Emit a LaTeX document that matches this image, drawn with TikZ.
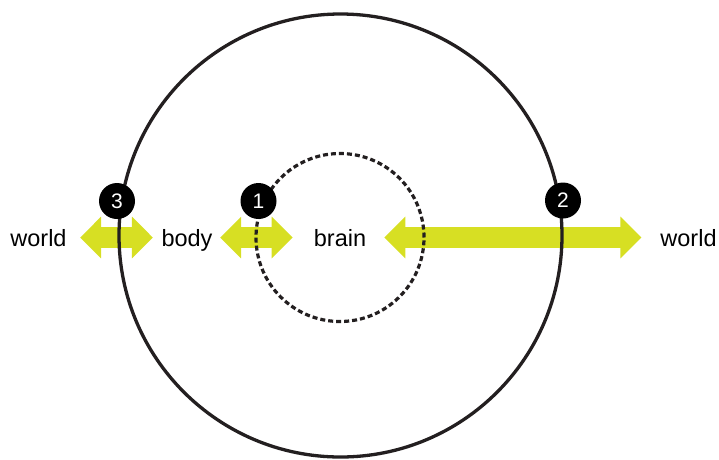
\documentclass[tikz,border=0pt]{standalone}
\usepackage{fontspec}
\setmainfont{Liberation Sans}
\usetikzlibrary{arrows.meta}
\definecolor{lime}{HTML}{D7DF23}
\definecolor{ink}{HTML}{231F20}
\begin{document}
\begin{tikzpicture}[x=1pt,y=-1pt,
  lbl/.style={font=\fontsize{23.5}{28}\selectfont, inner sep=0pt, anchor=base, text=black},
  dbl/.style={draw=lime, line width=21.6pt, {Triangle[length=21pt,width=40.6pt]}-{Triangle[length=21pt,width=40.6pt]}},
  badge/.style={circle, fill=black, minimum size=36pt, inner sep=0pt, text=white, font=\fontsize{21}{24}\selectfont},
  ring/.style={draw=ink, line width=3.3pt},
  dring/.style={draw=ink, line width=3.2pt, dash pattern=on 5pt off 3pt}]
\useasboundingbox (0,0) rectangle (719,459);
% labels
\node[lbl] (wl) at (38.5,246) {world};
\node[lbl] (body) at (187,246) {body};
\node[lbl] (brain) at (340,246) {brain};
\node[lbl] (wr) at (688.5,246) {world};
% arrows
\draw[dbl] ([shift={(13.4,-8.5)}]wl.base east) -- ([shift={(-8.5,-8.5)}]body.base west);
\draw[dbl] ([shift={(7.5,-8.5)}]body.base east) -- ([shift={(-21,-8.5)}]brain.base west);
\draw[dbl] ([shift={(18,-8.5)}]brain.base east) -- ([shift={(-18.8,-8.5)}]wr.base west);
% circles
\draw[ring] (340.5,235.5) circle[radius=221.5pt];
\draw[dring] (340,237.5) circle[radius=84pt];
% badges
\node[badge] (b3) at (117,201) {3};
\node[badge] (b1) at (258.5,201) {1};
\node[badge] (b2) at (563,200.5) {2};
\end{tikzpicture}
\end{document}
